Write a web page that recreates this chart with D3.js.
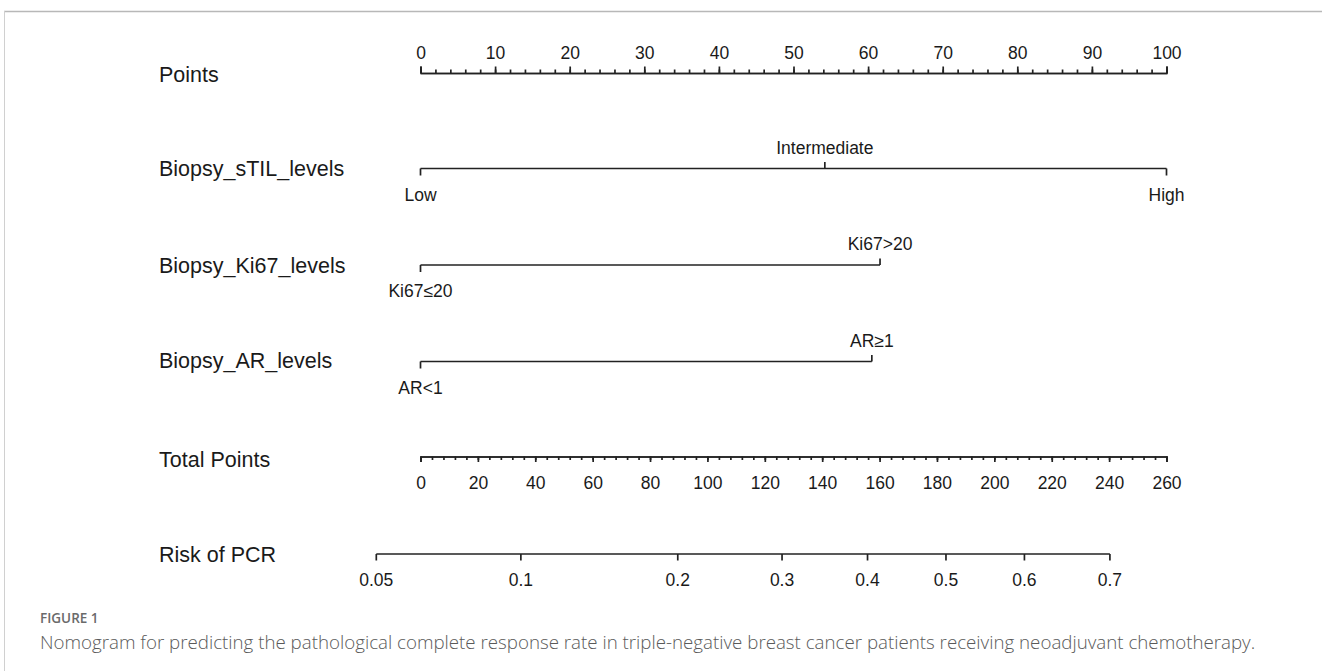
<!DOCTYPE html>
<html>
<head>
<meta charset="utf-8">
<script src="https://cdn.jsdelivr.net/npm/d3@7/dist/d3.min.js"></script>
<style>
  html, body { margin: 0; padding: 0; background: #fff; }
  svg { display: block; }
  .lab { font-family: "Liberation Sans", Arial, sans-serif; fill: #1a1a1a; }
</style>
</head>
<body>
<svg id="chart" width="1322" height="671"></svg>
<script>
// ---------------- data ----------------
const rowNames = ["Points", "Biopsy_sTIL_levels", "Biopsy_Ki67_levels", "Biopsy_AR_levels", "Total Points", "Risk of PCR"];

const pointsTicks = [0, 10, 20, 30, 40, 50, 60, 70, 80, 90, 100];

const stilLabels = ["Low", "Intermediate", "High"];
const stilPoints = [0, 54.2, 100];
const stilSide   = ["below", "above", "below"];

const ki67Labels = ["Ki67\u226420", "Ki67>20"];
const ki67Points = [0, 61.6];
const ki67Side   = ["below", "above"];

const arLabels = ["AR<1", "AR\u22651"];
const arPoints = [0, 60.5];
const arSide   = ["below", "above"];

const totalTicks = [0, 20, 40, 60, 80, 100, 120, 140, 160, 180, 200, 220, 240, 260];

const riskTicks  = [0.05, 0.1, 0.2, 0.3, 0.4, 0.5, 0.6, 0.7];
const riskLabels = ["0.05", "0.1", "0.2", "0.3", "0.4", "0.5", "0.6", "0.7"];
// linear predictor: logit(risk) = lpIntercept + lpSlope * totalPoints
const lpIntercept = -2.716;
const lpSlope = 0.01483;

const captionHead = "FIGURE 1";
const captionText = "Nomogram for predicting the pathological complete response rate in triple-negative breast cancer patients receiving neoadjuvant chemotherapy.";

// ---------------- layout ----------------
const svg = d3.select("#chart");
const X0 = 420.5, X1 = 1166.5;
const xPts = d3.scaleLinear().domain([0, 100]).range([X0, X1]);
const xTot = d3.scaleLinear().domain([0, 260]).range([X0, X1]);
const logit = p => Math.log(p / (1 - p));
const xRisk = p => xTot((logit(p) - lpIntercept) / lpSlope);

const rowY = [73, 168.5, 265, 361.5, 456.5, 554];
const labelY = [75, 169, 266, 361, 460, 555];
const stroke = "#222";
const tickFont = "17.5px";

// frame
svg.append("line").attr("x1", 4).attr("x2", 1322).attr("y1", 11.5).attr("y2", 11.5)
  .attr("stroke", "#b8b8b8").attr("stroke-width", 1.5);
svg.append("line").attr("x1", 4.5).attr("x2", 4.5).attr("y1", 11).attr("y2", 671)
  .attr("stroke", "#d0d0d0").attr("stroke-width", 1);

// row labels
svg.selectAll("text.rowname").data(rowNames).join("text")
  .attr("class", "lab rowname")
  .attr("x", 159).attr("y", (d, i) => labelY[i])
  .attr("dominant-baseline", "central")
  .style("font-size", "21.5px")
  .text(d => d);

function styleAxis(g) {
  g.selectAll("path.domain").attr("stroke", stroke).attr("stroke-width", 1.7);
  g.selectAll(".tick line").attr("stroke", stroke).attr("stroke-width", 1.7);
  g.selectAll(".tick text").attr("class", "lab").style("font-size", tickFont).attr("fill", "#1a1a1a");
}

// Points axis (top)
const gPts = svg.append("g").attr("transform", `translate(0,${rowY[0]})`);
gPts.append("g").call(d3.axisTop(xPts).tickValues(d3.range(0, 101, 2)).tickSize(3.5).tickSizeOuter(0).tickFormat(""))
  .call(styleAxis);
gPts.append("g").call(d3.axisTop(xPts).tickValues(pointsTicks).tickSize(6.5).tickSizeOuter(6.5).tickPadding(6).tickFormat(d3.format("d")))
  .call(styleAxis);
gPts.selectAll(".tick text").attr("dy", null).attr("y", -20).attr("dominant-baseline", "central");

// categorical rows
function catRow(y, labels, pts, side) {
  const g = svg.append("g");
  g.append("line").attr("x1", xPts(d3.min(pts))).attr("x2", xPts(d3.max(pts)))
    .attr("y1", y).attr("y2", y).attr("stroke", stroke).attr("stroke-width", 1.7);
  g.selectAll("line.t").data(pts).join("line").attr("class", "t")
    .attr("x1", d => xPts(d)).attr("x2", d => xPts(d))
    .attr("y1", y).attr("y2", (d, i) => side[i] === "above" ? y - 6.5 : y + 7)
    .attr("stroke", stroke).attr("stroke-width", 1.7);
  g.selectAll("text").data(labels).join("text").attr("class", "lab")
    .attr("x", (d, i) => xPts(pts[i]))
    .attr("y", (d, i) => side[i] === "above" ? y - 21 : y + 26)
    .attr("text-anchor", "middle").attr("dominant-baseline", "central")
    .style("font-size", tickFont)
    .text(d => d);
}
catRow(rowY[1], stilLabels, stilPoints, stilSide);
catRow(rowY[2], ki67Labels, ki67Points, ki67Side);
catRow(rowY[3], arLabels, arPoints, arSide);

// Total points axis
const gTot = svg.append("g").attr("transform", `translate(0,${rowY[4]})`);
gTot.append("g").call(d3.axisBottom(xTot).tickValues(d3.range(0, 261, 4)).tickSize(3.5).tickSizeOuter(0).tickFormat(""))
  .call(styleAxis);
gTot.append("g").call(d3.axisBottom(xTot).tickValues(totalTicks).tickSize(5.5).tickSizeOuter(5.5).tickFormat(d3.format("d")))
  .call(styleAxis);
gTot.selectAll(".tick text").attr("dy", null).attr("y", 26.5).attr("dominant-baseline", "central");

// Risk axis
const gRisk = svg.append("g").attr("transform", `translate(0,${rowY[5]})`);
gRisk.append("path")
  .attr("d", `M${xRisk(riskTicks[0])},0H${xRisk(riskTicks[riskTicks.length - 1])}`)
  .attr("stroke", stroke).attr("stroke-width", 1.7).attr("fill", "none");
const rt = gRisk.selectAll("g.rt").data(riskTicks).join("g").attr("class", "rt")
  .attr("transform", d => `translate(${xRisk(d)},0)`);
rt.append("line").attr("y1", 0).attr("y2", 6.5).attr("stroke", stroke).attr("stroke-width", 1.7);
rt.append("text").attr("class", "lab").attr("y", 26).attr("text-anchor", "middle")
  .attr("dominant-baseline", "central").style("font-size", tickFont)
  .text((d, i) => riskLabels[i]);

// caption
svg.append("text").attr("x", 40).attr("y", 618).attr("dominant-baseline", "central")
  .style("font-family", "'Open Sans', 'Noto Sans', sans-serif").style("font-size", "13.5px")
  .style("font-weight", 600).attr("fill", "#6a6a6a").text(captionHead);
const cap = svg.append("text").attr("x", 40).attr("y", 641).attr("dominant-baseline", "central")
  .style("font-family", "'Open Sans', 'Noto Sans', sans-serif").style("font-size", "16px")
  .style("font-weight", 300).attr("fill", "#5a5a5a").text(captionText);
const w = cap.node().getComputedTextLength();
cap.style("font-size", (16 * 1216 / w).toFixed(2) + "px");
</script>
</body>
</html>
